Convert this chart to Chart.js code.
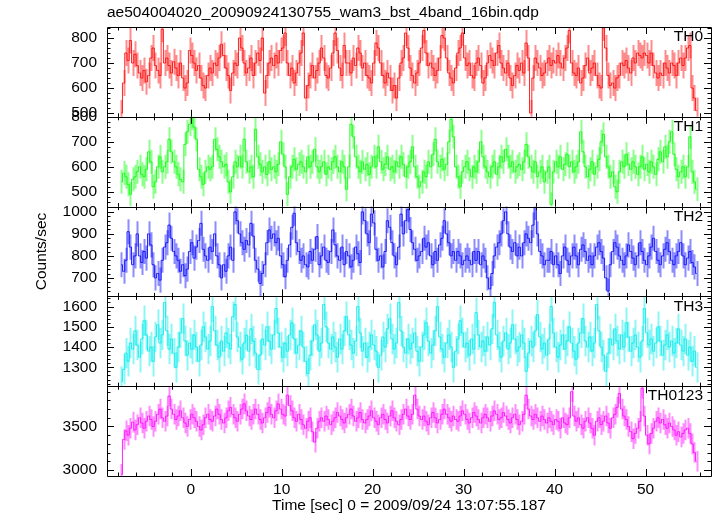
<!DOCTYPE html>
<html>
<head>
<meta charset="utf-8">
<script src="https://cdn.jsdelivr.net/npm/chart.js@4.4.0/dist/chart.umd.min.js"></script>
<style>
  html, body { margin: 0; background: #fff; }
</style>
</head>
<body>
<canvas id="lc" width="717" height="516"></canvas>
<script>
// light curve bins (sec, relative to trigger)
const binStart = -7.75;
const binWidth = 0.25;

const panelNames = ['TH0', 'TH1', 'TH2', 'TH3', 'TH0123'];

// counts/sec, one value per bin
const th0 = [
  500,620,740,710, 790,700,735,690, 660,640,670,625, 650,720,760,690,
  670,650,835,700, 720,690,660,705, 680,650,700,640, 600,620,750,730,
  700,670,690,640, 610,600,650,680, 660,700,690,720, 775,730,680,650,
  590,660,700,690, 800,760,700,660, 680,720,650,700, 740,710,800,580,
  650,700,720,690, 730,700,750,760, 820,700,650,680, 620,660,700,740,
  820,560,610,650, 690,640,670,700, 760,720,650,640, 680,740,820,750,
  680,650,770,700, 700,660,720,690, 760,740,680,700, 650,640,620,700,
  780,760,700,650, 620,660,640,590, 610,560,640,700, 720,820,760,680,
  650,620,660,700, 760,830,740,690, 700,680,650,670, 720,810,800,720,
  660,640,620,680, 740,760,820,720, 690,700,650,640, 700,720,690,620,
  640,700,730,710, 690,740,770,700, 680,660,700,640, 610,650,690,670,
  700,660,780,720, 500,640,720,700, 680,650,660,700, 720,690,710,700,
  730,700,680,720, 760,830,700,660, 650,680,620,640, 690,720,660,680,
  700,650,610,600, 840,760,650,610, 620,600,640,650, 700,690,710,680,
  660,720,700,740, 730,720,740,730, 700,740,690,660, 640,660,650,700,
  680,660,700,690, 650,700,720,690, 720,760,770,600, 560,510
];
const th1 = [
  540,575,560,530, 490,550,560,580, 600,570,560,590, 660,620,520,540,
  600,640,580,600, 620,710,660,620, 600,570,550,540, 690,740,770,795,
  760,710,590,560, 530,580,600,590, 600,710,670,640, 620,600,610,540,
  500,560,620,600, 640,600,710,620, 580,600,560,750, 640,610,580,600,
  570,620,590,600, 580,610,700,650, 600,490,560,600, 630,590,610,620,
  600,580,640,600, 620,670,600,580, 600,620,570,600, 590,620,640,600,
  580,620,600,510, 600,770,720,640, 600,580,620,590, 610,570,600,640,
  600,680,620,590, 610,640,590,600, 580,620,600,640, 610,560,600,620,
  680,600,560,520, 540,580,560,620, 600,650,710,620, 600,630,590,610,
  700,790,720,600, 560,520,580,600, 620,590,560,600, 580,620,700,640,
  600,580,560,600, 620,570,600,640, 620,670,640,600, 620,580,600,610,
  590,620,690,640, 600,580,620,560, 580,600,540,580, 600,450,580,620,
  600,640,590,610, 650,600,620,580, 600,620,740,660, 600,560,590,620,
  570,600,630,700, 730,640,600,560, 580,520,500,580, 620,600,650,610,
  590,620,600,570, 600,640,590,610, 580,620,600,570, 630,660,620,680,
  640,700,740,650, 590,560,580,600, 560,600,720,580, 540,510
];
const th2 = [
  760,730,780,910, 840,760,800,900, 800,770,820,790, 900,850,760,700,
  720,690,780,840, 860,940,880,820, 800,780,730,760, 710,740,820,860,
  790,840,870,948, 830,800,780,840, 820,900,800,760, 700,760,730,800,
  840,780,1000,960, 900,860,830,870, 850,948,890,780, 740,675,720,760,
  860,918,880,900, 860,880,800,760, 705,780,850,930, 994,860,820,780,
  800,760,750,820, 780,830,888,760, 800,840,780,770, 820,918,850,800,
  780,840,760,820, 800,750,780,840, 810,770,1000,960, 900,860,990,950,
  830,780,800,750, 820,960,930,860, 800,760,840,990, 900,960,1010,920,
  860,830,780,800, 820,880,840,860, 800,760,820,780, 850,880,960,900,
  860,800,820,780, 820,800,760,780, 800,780,760,820, 780,820,760,800,
  780,700,650,720, 800,840,860,900, 960,1000,900,840, 820,860,800,840,
  800,860,900,880, 860,940,1020,900, 820,800,760,780, 780,820,760,800,
  760,720,800,840, 780,760,800,840, 800,760,830,850, 820,780,800,760,
  800,840,860,820, 790,700,640,760, 820,860,840,800, 780,760,800,850,
  820,790,760,800, 860,820,780,760, 800,840,880,820, 780,760,800,830,
  860,820,780,760, 800,820,860,800, 760,790,820,770, 750,720
];
const th3 = [
  1230,1290,1370,1330,1420,1390,1480,1410,1350,1440,1530,1460,1380,1400,1330,1450,
  1510,1420,1460,1620,1480,1390,1440,1370,1300,1400,1470,1540,1430,1360,1420,1390,
  1460,1400,1330,1410,1500,1450,1390,1430,1600,1480,1410,1350,1430,1380,1470,1420,
  1390,1550,1610,1450,1400,1340,1420,1460,1380,1490,1430,1370,1290,1360,1440,1410,
  1500,1430,1390,1460,1590,1470,1400,1350,1420,1380,1460,1520,1440,1370,1410,1480,
  1400,1330,1270,1360,1430,1510,1460,1380,1420,1610,1500,1420,1390,1450,1400,1350,
  1440,1390,1480,1550,1460,1410,1370,1430,1600,1470,1380,1420,1350,1400,1460,1410,
  1380,1300,1360,1450,1400,1490,1540,1440,1390,1420,1620,1480,1400,1370,1440,1390,
  1420,1470,1380,1330,1400,1460,1520,1430,1370,1410,1480,1600,1450,1390,1350,1420,
  1460,1400,1300,1380,1440,1530,1470,1400,1420,1360,1440,1390,1570,1460,1400,1430,
  1380,1450,1410,1490,1620,1460,1400,1350,1430,1470,1390,1420,1510,1440,1380,1400,
  1460,1420,1280,1370,1430,1400,1480,1560,1450,1390,1420,1360,1440,1600,1470,1400,
  1350,1410,1460,1390,1430,1500,1420,1380,1340,1420,1470,1540,1430,1400,1450,1380,
  1420,1610,1480,1400,1360,1280,1370,1440,1410,1490,1430,1390,1460,1400,1520,1450,
  1380,1420,1460,1400,1350,1430,1590,1470,1410,1440,1380,1420,1500,1430,1360,1410,
  1460,1400,1430,1370,1420,1490,1410,1380,1440,1360,1400,1330,1380,1300
];
const th0123 = [
  2950,3350,3450,3400, 3480,3550,3460,3520, 3600,3540,3480,3560, 3620,3580,3500,3560,
  3640,3700,3600,3560, 3620,3850,3700,3640, 3580,3620,3680,3600, 3540,3500,3580,3640,
  3600,3560,3500,3460, 3520,3600,3640,3580, 3560,3620,3700,3640, 3580,3540,3600,3680,
  3720,3640,3600,3560, 3640,3700,3760,3680, 3620,3580,3640,3700, 3640,3580,3540,3600,
  3660,3720,3640,3600, 3680,3760,3700,3640, 3620,3860,3740,3680, 3600,3560,3640,3580,
  3520,3480,3560,3600, 3440,3320,3480,3560, 3600,3560,3620,3580, 3520,3560,3600,3660,
  3620,3580,3540,3600, 3640,3700,3620,3560, 3600,3660,3580,3540, 3580,3620,3680,3600,
  3560,3520,3600,3640, 3580,3540,3620,3680, 3600,3560,3520,3580, 3640,3700,3620,3580,
  3640,3860,3700,3620, 3580,3620,3560,3520, 3600,3660,3600,3540, 3580,3640,3700,3640,
  3600,3560,3620,3580, 3560,3620,3680,3640, 3580,3540,3600,3660, 3620,3580,3540,3600,
  3640,3600,3560,3620, 3680,3640,3580,3600, 3660,3620,3580,3540, 3600,3640,3580,3520,
  3560,3640,3860,3700, 3620,3580,3640,3600, 3560,3620,3580,3540, 3600,3560,3520,3580,
  3560,3480,3600,3540, 3520,3600,3900,3620, 3560,3600,3520,3480, 3560,3600,3540,3480,
  3400,3560,3600,3520, 3560,3620,3540,3480, 3600,3640,3720,3880, 3700,3620,3580,3500,
  3440,3360,3420,3480, 3560,3940,3620,3400, 3300,3420,3480,3560, 3600,3540,3580,3520,
  3480,3540,3500,3460, 3400,3440,3380,3420, 3460,3480,3420,3300, 3200,3100
];
const series = [th0, th1, th2, th3, th0123];
// 1-sigma error per bin for each panel
const errors = [52, 48, 57, 75, 118];

// axis ranges and labelled ticks per panel
const yMin = [485, 441, 616, 1207, 2931];
const yMax = [844, 800, 1024, 1650, 3963];
const yTicks = [
  [500, 600, 700, 800],
  [500, 600, 700, 800],
  [700, 800, 900, 1000],
  [1300, 1400, 1500, 1600],
  [3000, 3500]
];
const yMinor = [20, 20, 20, 20, 100];
const xMin = -9.2, xMax = 57.2;
const xTicks = [0, 10, 20, 30, 40, 50];

const colors = ['255,0,0', '0,255,0', '0,0,255', '0,235,235', '255,0,255'];
const FONT = '"Liberation Sans", Arimo, Arial, Helvetica, sans-serif';

const datasets = series.map((vals, p) => ({
  label: panelNames[p],
  yAxisID: 'y' + p,
  data: vals.map((v, i) => ({x: binStart + binWidth * (i + 0.5), y: v})),
  stepped: 'middle',
  borderColor: 'rgba(' + colors[p] + ',0.85)',
  borderWidth: 1,
  pointRadius: 0,
  fill: false
}));

const scales = {
  x: {
    type: 'linear', position: 'bottom', min: xMin, max: xMax,
    grid: {display: false, drawTicks: false}, border: {display: false},
    afterBuildTicks: s => { s.ticks = xTicks.map(v => ({value: v})); },
    ticks: {padding: 4, color: '#000', font: {family: FONT, size: 15.5}},
    afterFit: s => { s.height = 40; }
  }
};
// stacked axes are placed bottom-up, so add the lowest panel first
for (let p = panelNames.length - 1; p >= 0; p--) {
  scales['y' + p] = {
    type: 'linear', position: 'left', stack: 'panels', stackWeight: 1,
    min: yMin[p], max: yMax[p],
    grid: {display: false, drawTicks: false}, border: {display: false},
    afterBuildTicks: s => { s.ticks = yTicks[p].map(v => ({value: v})); },
    ticks: {autoSkip: false, padding: 10, color: '#000', font: {family: FONT, size: 15.5},
            callback: v => String(v)},
    afterFit: s => { s.width = 107; }
  };
}

// clip each panel to its own strip and draw error bars under the step line
const panelClip = {
  id: 'panelClip',
  beforeDatasetDraw(chart, args) {
    const ctx = chart.ctx, area = chart.chartArea;
    const p = args.index;
    const ys = chart.scales['y' + p], xs = chart.scales.x;
    ctx.save();
    ctx.beginPath();
    ctx.rect(area.left, ys.top, area.right - area.left, ys.bottom - ys.top);
    ctx.clip();
    ctx.strokeStyle = 'rgba(' + colors[p] + ',0.45)';
    ctx.lineWidth = 2;
    ctx.beginPath();
    series[p].forEach((v, i) => {
      const px = Math.round(xs.getPixelForValue(binStart + binWidth * (i + 0.5))) + 0.5;
      ctx.moveTo(px, ys.getPixelForValue(v - errors[p]));
      ctx.lineTo(px, ys.getPixelForValue(v + errors[p]));
    });
    ctx.stroke();
  },
  afterDatasetDraw(chart) {
    chart.ctx.restore();
  }
};

// qdp style frame: boxes, inward ticks, labels
const frame = {
  id: 'frame',
  afterDraw(chart) {
    const ctx = chart.ctx, area = chart.chartArea, xs = chart.scales.x;
    ctx.save();
    ctx.strokeStyle = '#000';
    ctx.lineWidth = 1;
    ctx.beginPath();
    panelNames.forEach((n, p) => {
      const ys = chart.scales['y' + p];
      const top = Math.round(ys.top) + 0.5, bot = Math.round(ys.bottom) + 0.5;
      ctx.rect(Math.round(area.left) + 0.5, top, Math.round(area.right - area.left), bot - top);
      // y ticks, left and right
      for (let v = Math.ceil(yMin[p] / yMinor[p]) * yMinor[p]; v <= yMax[p]; v += yMinor[p]) {
        const py = Math.round(ys.getPixelForValue(v)) + 0.5;
        const len = yTicks[p].includes(v) ? 7 : 3.5;
        ctx.moveTo(area.left, py); ctx.lineTo(area.left + len, py);
        ctx.moveTo(area.right, py); ctx.lineTo(area.right - len, py);
      }
      // x ticks, top and bottom of each panel
      for (let t = Math.ceil(xMin / 2) * 2; t <= xMax; t += 2) {
        const px = Math.round(xs.getPixelForValue(t)) + 0.5;
        const len = t % 10 === 0 ? 7 : 3.5;
        ctx.moveTo(px, ys.top); ctx.lineTo(px, ys.top + len);
        ctx.moveTo(px, ys.bottom); ctx.lineTo(px, ys.bottom - len);
      }
    });
    ctx.stroke();

    ctx.fillStyle = '#000';
    ctx.font = '15.5px ' + FONT;
    ctx.textAlign = 'right';
    ctx.textBaseline = 'middle';
    panelNames.forEach((n, p) => {
      const ys = chart.scales['y' + p];
      ctx.fillText(n, area.right - 8, ys.top + 10);
    });

    ctx.textAlign = 'left';
    ctx.fillText('ae504004020_20090924130755_wam3_bst_4band_16bin.qdp', area.left, 13);

    ctx.textAlign = 'center';
    ctx.fillText('Time [sec] 0 = 2009/09/24 13:07:55.187', (area.left + area.right) / 2, 506);

    ctx.translate(42, (area.top + area.bottom) / 2);
    ctx.rotate(-Math.PI / 2);
    ctx.fillText('Counts/sec', 0, 0);
    ctx.restore();
  }
};

new Chart(document.getElementById('lc'), {
  type: 'line',
  data: {datasets: datasets},
  options: {
    responsive: false,
    animation: false,
    devicePixelRatio: 1,
    layout: {padding: {left: 0, right: 6, top: 27, bottom: 0}},
    plugins: {legend: {display: false}, tooltip: {enabled: false}, title: {display: false}},
    scales: scales
  },
  plugins: [panelClip, frame]
});
</script>
</body>
</html>
